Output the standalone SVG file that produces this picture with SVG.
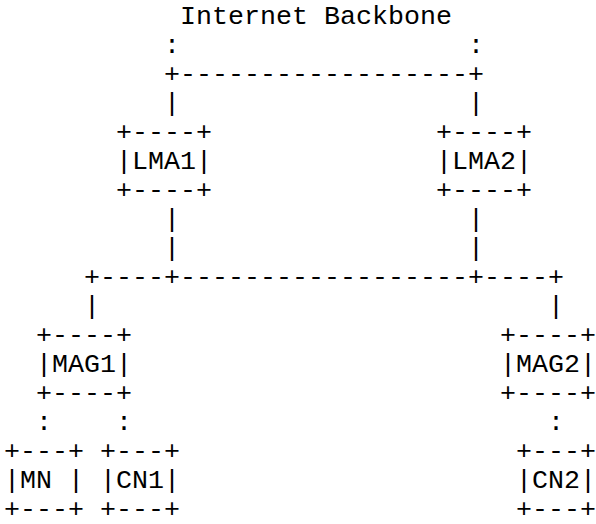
<svg xmlns="http://www.w3.org/2000/svg" width="596" height="524" viewBox="0 0 596 524">
<style>
text{font-family:"Liberation Mono","Courier New",monospace;font-size:26.67px;fill:#000;white-space:pre}
</style>
<rect width="596" height="524" fill="#fff"/>
<g id="backbone">
<text x="180" y="23.5">Internet Backbone</text>
</g>
<g id="connectors">
<text x="164" y="52.5">:</text>
<text x="468" y="52.5">:</text>
<text x="164" y="81.5">+------------------+</text>
<text x="164" y="110.5">|</text>
<text x="468" y="110.5">|</text>
<text x="164" y="226.5">|</text>
<text x="468" y="226.5">|</text>
<text x="164" y="255.5">|</text>
<text x="468" y="255.5">|</text>
<text x="84" y="284.5">+----+------------------+----+</text>
<text x="84" y="313.5">|</text>
<text x="548" y="313.5">|</text>
<text x="36" y="429.5">:</text>
<text x="116" y="429.5">:</text>
<text x="548" y="429.5">:</text>
</g>
<g id="LMA1">
<text x="116" y="139.5">+----+</text>
<text x="116" y="168.5">|LMA1|</text>
<text x="116" y="197.5">+----+</text>
</g>
<g id="LMA2">
<text x="436" y="139.5">+----+</text>
<text x="436" y="168.5">|LMA2|</text>
<text x="436" y="197.5">+----+</text>
</g>
<g id="MAG1">
<text x="36" y="342.5">+----+</text>
<text x="36" y="371.5">|MAG1|</text>
<text x="36" y="400.5">+----+</text>
</g>
<g id="MAG2">
<text x="500" y="342.5">+----+</text>
<text x="500" y="371.5">|MAG2|</text>
<text x="500" y="400.5">+----+</text>
</g>
<g id="MN">
<text x="4" y="458.5">+---+</text>
<text x="4" y="487.5">|MN |</text>
<text x="4" y="516.5">+---+</text>
</g>
<g id="CN1">
<text x="100" y="458.5">+---+</text>
<text x="100" y="487.5">|CN1|</text>
<text x="100" y="516.5">+---+</text>
</g>
<g id="CN2">
<text x="516" y="458.5">+---+</text>
<text x="516" y="487.5">|CN2|</text>
<text x="516" y="516.5">+---+</text>
</g>
</svg>
